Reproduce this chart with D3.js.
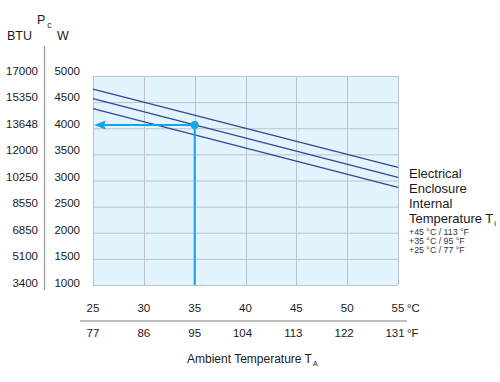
<!DOCTYPE html>
<html>
<head>
<meta charset="utf-8">
<script src="https://cdn.jsdelivr.net/npm/d3@7/dist/d3.min.js"></script>
<style>
  html, body { margin: 0; padding: 0; background: #fff; }
  svg { display: block; font-family: "Liberation Sans", Arial, Helvetica, sans-serif; }
</style>
</head>
<body>
<svg id="chart" width="500" height="382"></svg>
<script>
// ---- data ----
const ambientC = [25, 30, 35, 40, 45, 50, 55];
const ambientF = [77, 86, 95, 104, 113, 122, 131];
const powerW = [1000, 1500, 2000, 2500, 3000, 3500, 4000, 4500, 5000];
const powerBTU = [3400, 5100, 6850, 8550, 10250, 12000, 13648, 15350, 17000];
const lineX = [25, 55];
const internal45 = [4750, 3253];
const internal35 = [4566, 3061];
const internal25 = [4374, 2870];
const seriesNames = ["+45 °C / 113 °F", "+35 °C / 95 °F", "+25 °C / 77 °F"];
const examplePoint = [35, 4060];

// ---- layout ----
const svg = d3.select("#chart");
const x = d3.scaleLinear().domain([25, 55]).range([93, 398]);
const y = d3.scaleLinear().domain([1000, 5000]).range([285, 76]);
const yLab = d3.scaleLinear().domain([1000, 5000]).range([287, 74.5]);

const gridCol = "#bac4ca";
const lineCol = "#33479a";
const cyan = "#14a6e6";
const textCol = "#1a1a1a";

// plot background
svg.append("rect")
  .attr("x", x(25)).attr("y", y(5000))
  .attr("width", x(55) - x(25)).attr("height", y(1000) - y(5000))
  .attr("fill", "#e2f4fd");

// grid
svg.append("g").selectAll("line").data(powerW).join("line")
  .attr("x1", x(25)).attr("x2", x(55))
  .attr("y1", d => y(d) + 0.5).attr("y2", d => y(d) + 0.5)
  .attr("stroke", gridCol).attr("stroke-width", 1);
svg.append("g").selectAll("line").data(ambientC).join("line")
  .attr("x1", d => Math.round(x(d)) + 0.5).attr("x2", d => Math.round(x(d)) + 0.5)
  .attr("y1", y(5000)).attr("y2", y(1000))
  .attr("stroke", gridCol).attr("stroke-width", 1);

// series lines
const line = d3.line().x(d => x(d[0])).y(d => y(d[1]));
[internal45, internal35, internal25].forEach(s => {
  svg.append("path")
    .attr("d", line(lineX.map((v, i) => [v, s[i]])))
    .attr("fill", "none").attr("stroke", lineCol).attr("stroke-width", 1.3);
});

// example arrow
const px = x(examplePoint[0]), py = y(examplePoint[1]);
svg.append("line")
  .attr("x1", px).attr("x2", px).attr("y1", py).attr("y2", y(1000))
  .attr("stroke", cyan).attr("stroke-width", 2);
svg.append("line")
  .attr("x1", px).attr("x2", x(25) + 10).attr("y1", py).attr("y2", py)
  .attr("stroke", cyan).attr("stroke-width", 2);
svg.append("path")
  .attr("d", `M${x(25) + 1},${py} L${x(25) + 13},${py - 4.5} L${x(25) + 11},${py} L${x(25) + 13},${py + 4.5} Z`)
  .attr("fill", cyan);
svg.append("circle").attr("cx", px).attr("cy", py).attr("r", 4).attr("fill", cyan);

// left axis
svg.append("line")
  .attr("x1", 44.5).attr("x2", 44.5).attr("y1", 46).attr("y2", 290)
  .attr("stroke", "#9a9a9a").attr("stroke-width", 1.2);

svg.append("g").selectAll("text").data(powerBTU).join("text")
  .attr("x", 38).attr("y", (d, i) => yLab(powerW[i]))
  .attr("text-anchor", "end").attr("font-size", 11.5).attr("fill", textCol)
  .text(d => d);
svg.append("g").selectAll("text").data(powerW).join("text")
  .attr("x", 80).attr("y", d => yLab(d))
  .attr("text-anchor", "end").attr("font-size", 11.5).attr("fill", textCol)
  .text(d => d);

// headers
svg.append("text").attr("x", 7).attr("y", 40).attr("font-size", 12.5).attr("fill", textCol).text("BTU");
svg.append("text").attr("x", 57).attr("y", 40).attr("font-size", 12.5).attr("fill", textCol).text("W");
const pc = svg.append("text").attr("x", 37).attr("y", 24).attr("font-size", 12.5).attr("fill", textCol);
pc.append("tspan").text("P");
pc.append("tspan").attr("dx", 2).attr("dy", 4).attr("font-size", 8.5).text("c");

// bottom axis labels
svg.append("g").selectAll("text").data(ambientC).join("text")
  .attr("x", d => x(d)).attr("y", 312)
  .attr("text-anchor", "middle").attr("font-size", 11.5).attr("fill", textCol)
  .text(d => d);
svg.append("g").selectAll("text").data(ambientF).join("text")
  .attr("x", (d, i) => x(ambientC[i]) - (d >= 100 ? 3 : 0)).attr("y", 337)
  .attr("text-anchor", "middle").attr("font-size", 11.5).attr("fill", textCol)
  .text(d => d);
svg.append("text").attr("x", 407).attr("y", 312).attr("font-size", 11.5).attr("fill", textCol).text("°C");
svg.append("text").attr("x", 407).attr("y", 337).attr("font-size", 11.5).attr("fill", textCol).text("°F");
svg.append("line")
  .attr("x1", 80).attr("x2", 407).attr("y1", 321).attr("y2", 321)
  .attr("stroke", "#a8a8a8").attr("stroke-width", 1.5);

const at = svg.append("text").attr("x", 187).attr("y", 363).attr("font-size", 12).attr("fill", textCol);
at.append("tspan").text("Ambient Temperature T");
at.append("tspan").attr("dx", 1).attr("dy", 3).attr("font-size", 7).text("A");

// legend
const legTitle = ["Electrical", "Enclosure", "Internal", "Temperature T"];
svg.append("g").selectAll("text").data(legTitle).join("text")
  .attr("x", 409).attr("y", (d, i) => 178 + i * 15)
  .attr("font-size", 13).attr("fill", textCol)
  .each(function(d, i) {
    const t = d3.select(this);
    t.append("tspan").text(d);
    if (i === 3) t.append("tspan").attr("dx", 1).attr("dy", 3).attr("font-size", 8).text("i");
  });
svg.append("g").selectAll("text").data(seriesNames).join("text")
  .attr("x", 409).attr("y", (d, i) => 234.5 + i * 9.4)
  .attr("font-size", 8.8).attr("fill", "#333")
  .text(d => d);
</script>
</body>
</html>
